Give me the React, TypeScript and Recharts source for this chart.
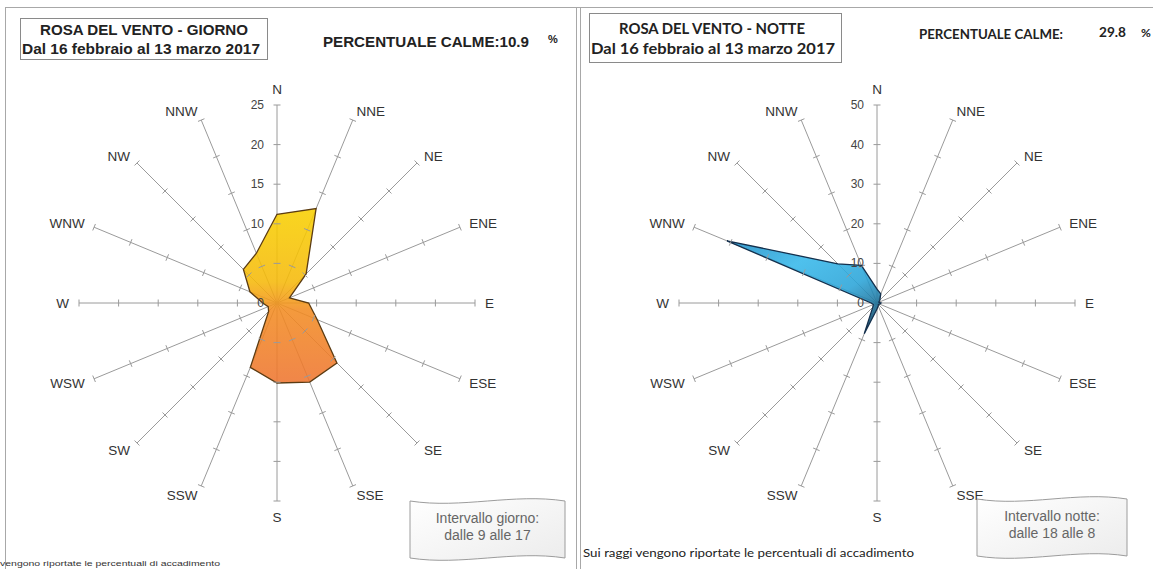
import React from 'react';
import { RadarChart, Radar, PolarGrid, PolarAngleAxis, PolarRadiusAxis } from 'recharts';

// direzioni della rosa, in senso orario da nord
const DIREZIONI = ['N', 'NNE', 'NE', 'ENE', 'E', 'ESE', 'SE', 'SSE', 'S', 'SSW', 'SW', 'WSW', 'W', 'WNW', 'NW', 'NNW'];

// percentuali di accadimento
const GIORNO = [11.2, 12.9, 5.2, 1.7, 4.0, 5.5, 10.7, 10.8, 10.1, 8.8, 1.5, 1.2, 1.8, 3.7, 6.0, 6.8];
const NOTTE = [3.5, 2.5, 1.0, 0.5, 1.0, 0.7, 0.5, 0.8, 1.5, 8.4, 1.5, 1.0, 1.5, 41.0, 14.0, 10.3];

const GIORNO_MAX = 25;
const NOTTE_MAX = 50;
const GIORNO_ETICHETTE = [0, 10, 15, 20, 25];
const NOTTE_ETICHETTE = [0, 10, 20, 30, 40, 50];
const DIVISIONI = 5; // trattini su ogni raggio

const H = 569;
const CY = 303;
const RAGGIO = 198;
const SPOKE = '#9a9a9a';
const BORDO = '#a8a8a8';
const ARIAL = 'Arial, "Liberation Sans", sans-serif';
const CALIBRI = 'Lato, "Open Sans", sans-serif';

// numeri sul raggio nord
function radiusLabel(etichette: number[]) {
  return (props: any) => {
    const { x, y, payload } = props;
    if (!etichette.includes(payload.value)) return <g />;
    return (
      <text x={x - 13} y={y} dy={4} textAnchor="end" fontSize={12} fill="#444" fontFamily={ARIAL}>
        {payload.value}
      </text>
    );
  };
}

// nome della direzione + trattini perpendicolari lungo il raggio
function dirLabel(cx: number) {
  return (props: any) => {
    const i = DIREZIONI.indexOf(props.payload.value);
    const a = ((90 - i * 22.5) * Math.PI) / 180;
    const c = Math.cos(a);
    const s = Math.sin(a);
    const x = cx + (RAGGIO + 10) * c;
    const y = CY - (RAGGIO + 10) * s;
    const anchor = c > 0.05 ? 'start' : c < -0.05 ? 'end' : 'middle';
    const dy = s > 0.95 ? -1 : s < -0.95 ? 11 : 5;
    const marks = [];
    for (let k = 1; k <= DIVISIONI; k++) {
      const r = (RAGGIO * k) / DIVISIONI;
      const mx = cx + r * c;
      const my = CY - r * s;
      marks.push(
        <line key={k} x1={mx - s * 3.5} y1={my - c * 3.5} x2={mx + s * 3.5} y2={my + c * 3.5} stroke={SPOKE} strokeWidth={1} />,
      );
    }
    return (
      <g>
        {marks}
        <text x={x} y={y} dy={dy} textAnchor={anchor} fontSize={13.5} fill="#333" fontFamily={ARIAL}>
          {props.payload.value}
        </text>
      </g>
    );
  };
}

interface RosaProps {
  valori: number[];
  max: number;
  etichette: number[];
  width: number;
  cx: number;
  gradId: string;
  stops: [number, string][];
  diagonal?: boolean;
  stroke: string;
}

function Rosa({ valori, max, etichette, width, cx, gradId, stops, diagonal, stroke }: RosaProps) {
  const data = DIREZIONI.map((dir, i) => ({ dir, valore: valori[i] }));
  return (
    <RadarChart
      width={width}
      height={H}
      data={data}
      cx={cx}
      cy={CY}
      outerRadius={RAGGIO}
      margin={{ top: 0, right: 0, bottom: 0, left: 0 }}
    >
      <defs>
        <linearGradient id={gradId} x1="0" y1="0" x2={diagonal ? '1' : '0'} y2="1">
          {stops.map(([o, c]) => (
            <stop key={o} offset={o} stopColor={c} />
          ))}
        </linearGradient>
      </defs>
      <PolarGrid gridType="polygon" polarRadius={[]} radialLines stroke={SPOKE} strokeWidth={1} />
      <PolarAngleAxis dataKey="dir" axisLine={false} tickLine={false} tick={dirLabel(cx)} />
      <PolarRadiusAxis
        angle={90}
        type="number"
        domain={[0, max]}
        tickCount={6}
        axisLine={false}
        tick={radiusLabel(etichette)}
      />
      <Radar
        dataKey="valore"
        stroke={stroke}
        strokeWidth={1.3}
        fill={`url(#${gradId})`}
        fillOpacity={0.88}
        dot={false}
        isAnimationActive={false}
      />
    </RadarChart>
  );
}

function bannerPath(x: number, y: number, w: number, h: number) {
  const a = 4;
  return (
    `M ${x} ${y + a} C ${x + w / 3} ${y + 3 * a}, ${x + (2 * w) / 3} ${y - a}, ${x + w} ${y + a} ` +
    `L ${x + w} ${y + h - a} ` +
    `C ${x + (2 * w) / 3} ${y + h - 3 * a}, ${x + w / 3} ${y + h + a}, ${x} ${y + h - a} Z`
  );
}

function Banner({ x, y, w, h, righe }: { x: number; y: number; w: number; h: number; righe: string[] }) {
  return (
    <g>
      <path d={bannerPath(x, y, w, h)} fill="url(#bannerGrad)" stroke="#9c9c9c" strokeWidth={1} />
      {righe.map((r, i) => (
        <text
          key={r}
          x={x + w / 2}
          y={y + 26 + i * 17}
          textAnchor="middle"
          fontSize={14}
          fill="#666"
          fontFamily={ARIAL}
        >
          {r}
        </text>
      ))}
    </g>
  );
}

export default function App() {
  return (
    <div style={{ position: 'absolute', left: 0, top: 0, width: 1153, height: H, background: '#fff', overflow: 'hidden' }}>
      <div style={{ position: 'absolute', left: 0, top: 0 }}>
        <Rosa
          valori={GIORNO}
          max={GIORNO_MAX}
          etichette={GIORNO_ETICHETTE}
          width={577}
          cx={277}
          gradId="gradGiorno"
          stops={[
            [0, '#f8d000'],
            [0.42, '#f5b90a'],
            [0.58, '#f28c22'],
            [1, '#ee7530'],
          ]}
          stroke="#5b3b12"
        />
      </div>
      <div style={{ position: 'absolute', left: 577, top: 0 }}>
        <Rosa
          valori={NOTTE}
          max={NOTTE_MAX}
          etichette={NOTTE_ETICHETTE}
          width={576}
          cx={300}
          gradId="gradNotte"
          diagonal
          stops={[
            [0, '#1e8cc4'],
            [0.35, '#36b8ea'],
            [0.65, '#2aa4d8'],
            [1, '#12405c'],
          ]}
          stroke="#14304d"
        />
      </div>

      <svg width={1153} height={H} style={{ position: 'absolute', left: 0, top: 0, pointerEvents: 'none' }}>
        <defs>
          <linearGradient id="bannerGrad" x1="0" y1="0" x2="1" y2="1">
            <stop offset="0" stopColor="#ffffff" />
            <stop offset="1" stopColor="#ececec" />
          </linearGradient>
        </defs>

        {/* cornici dei due pannelli */}
        <line x1={5} y1={7.5} x2={1153} y2={7.5} stroke={BORDO} />
        <line x1={5.5} y1={7} x2={5.5} y2={H} stroke={BORDO} />
        <line x1={576.5} y1={7} x2={576.5} y2={H} stroke={BORDO} />
        <line x1={580.5} y1={7} x2={580.5} y2={H} stroke={BORDO} />

        {/* pannello giorno */}
        <rect x={20.5} y={18.5} width={247} height={41} fill="#fff" stroke="#8a8a8a" />
        <text x={144} y={34.5} textAnchor="middle" fontSize={15} fontWeight="bold" fill="#222" fontFamily={ARIAL}
          textLength={208} lengthAdjust="spacingAndGlyphs">
          ROSA DEL VENTO - GIORNO
        </text>
        <text x={141} y={53.5} textAnchor="middle" fontSize={15} fontWeight="bold" fill="#222" fontFamily={ARIAL}
          textLength={238} lengthAdjust="spacingAndGlyphs">
          Dal 16 febbraio al 13 marzo 2017
        </text>
        <text x={323} y={47} fontSize={14.5} fontWeight="bold" fill="#222" fontFamily={ARIAL}
          textLength={206} lengthAdjust="spacingAndGlyphs">
          PERCENTUALE CALME:10.9
        </text>
        <text x={548} y={43} fontSize={11} fontWeight="bold" fill="#222" fontFamily={ARIAL}>%</text>
        <text x={0} y={566} fontSize={8} fill="#333" fontFamily={ARIAL} textLength={220} lengthAdjust="spacingAndGlyphs">
          vengono riportate le percentuali di accadimento
        </text>
        <Banner x={410} y={497} w={155} h={65} righe={['Intervallo giorno:', 'dalle 9 alle 17']} />

        {/* pannello notte */}
        <rect x={589.5} y={13.5} width={252} height={49} fill="#fff" stroke="#8a8a8a" />
        <text x={712} y={33.5} textAnchor="middle" fontSize={15} fontWeight="bold" fill="#222" fontFamily={CALIBRI}
          textLength={186} lengthAdjust="spacingAndGlyphs">
          ROSA DEL VENTO - NOTTE
        </text>
        <text x={713} y={53.5} textAnchor="middle" fontSize={15} fontWeight="bold" fill="#222" fontFamily={CALIBRI}
          textLength={244} lengthAdjust="spacingAndGlyphs">
          Dal 16 febbraio al 13 marzo 2017
        </text>
        <text x={919} y={38.5} fontSize={13} fontWeight="bold" fill="#222" fontFamily={CALIBRI}
          textLength={144} lengthAdjust="spacingAndGlyphs">
          PERCENTUALE CALME:
        </text>
        <text x={1099} y={37} fontSize={13} fontWeight="bold" fill="#222" fontFamily={CALIBRI}
          textLength={27} lengthAdjust="spacingAndGlyphs">
          29.8
        </text>
        <text x={1141} y={37} fontSize={12} fontWeight="bold" fill="#222" fontFamily={CALIBRI}>%</text>
        <text x={583} y={557} fontSize={11} fill="#222" fontFamily={CALIBRI} textLength={331} lengthAdjust="spacingAndGlyphs">
          Sui raggi vengono riportate le percentuali di accadimento
        </text>
        <Banner x={977} y={495} w={150} h={65} righe={['Intervallo notte:', 'dalle 18 alle 8']} />
      </svg>
    </div>
  );
}
